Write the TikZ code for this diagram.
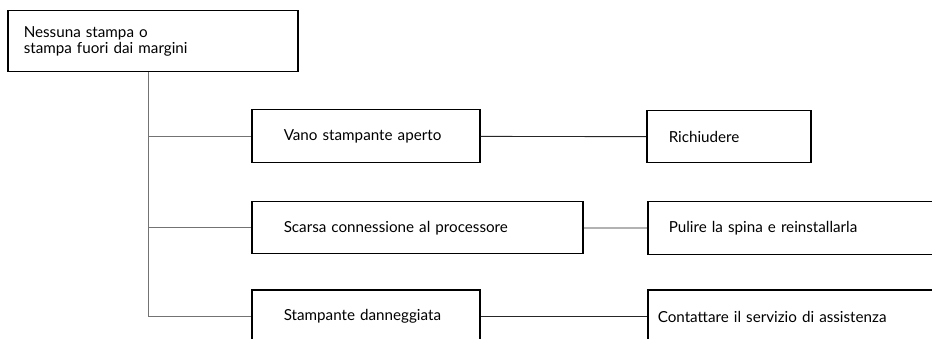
\documentclass[tikz,border=0pt]{standalone}
\usepackage{fontspec}
\setmainfont{Lato}
\usetikzlibrary{positioning}

\begin{document}
\begin{tikzpicture}[x=1pt,y=-1pt,
            box/.style={draw, line width=1.5pt, anchor=north west, align=left, inner ysep=0pt, font=\fontsize{15.2}{16}\selectfont},
            trunk/.style={draw=black!55, line width=0.9pt},
            link/.style={draw=black!85, line width=0.9pt}]
        \useasboundingbox (0,0) rectangle (932,339);
        \clip (0,0) rectangle (932,339);

        \node[box, text width=258pt, inner xsep=16pt, minimum height=61pt] (P) at (7,10) {Nessuna stampa o\\stampa fuori dai margini};

        \node[box, text width=164pt, inner xsep=32pt, minimum height=53pt] (V) at (251,109) {Vano stampante aperto};
        \node[box, text width=267pt, inner xsep=32pt, minimum height=52pt] (S) at (251,201) {Scarsa connessione al processore};
        \node[box, text width=164pt, inner xsep=32pt, minimum height=54pt] (D) at (251,289) {Stampante danneggiata};

        \node[box, text width=120pt, inner xsep=22pt, minimum height=52pt] (R) at (646,110) {Richiudere};
        \node[box, text width=280pt, inner xsep=21pt, minimum height=53pt] (L) at (647,201) {Pulire la spina e reinstallarla};
        \node[box, text width=300pt, inner xsep=10pt, minimum height=54pt] (C) at (647,289) {Contattare il servizio di assistenza};

        \coordinate (J) at ([xshift=-4pt]P.south);
        \draw[trunk] (J) |- (V.west);
        \draw[trunk] (J) |- (S.west);
        \draw[trunk] (J) |- (D.west);

        \draw[link] (V) -- (R);
        \draw[link] (S) -- (L);
        \draw[link] (D) -- (C);
    \end{tikzpicture}
\end{document}
